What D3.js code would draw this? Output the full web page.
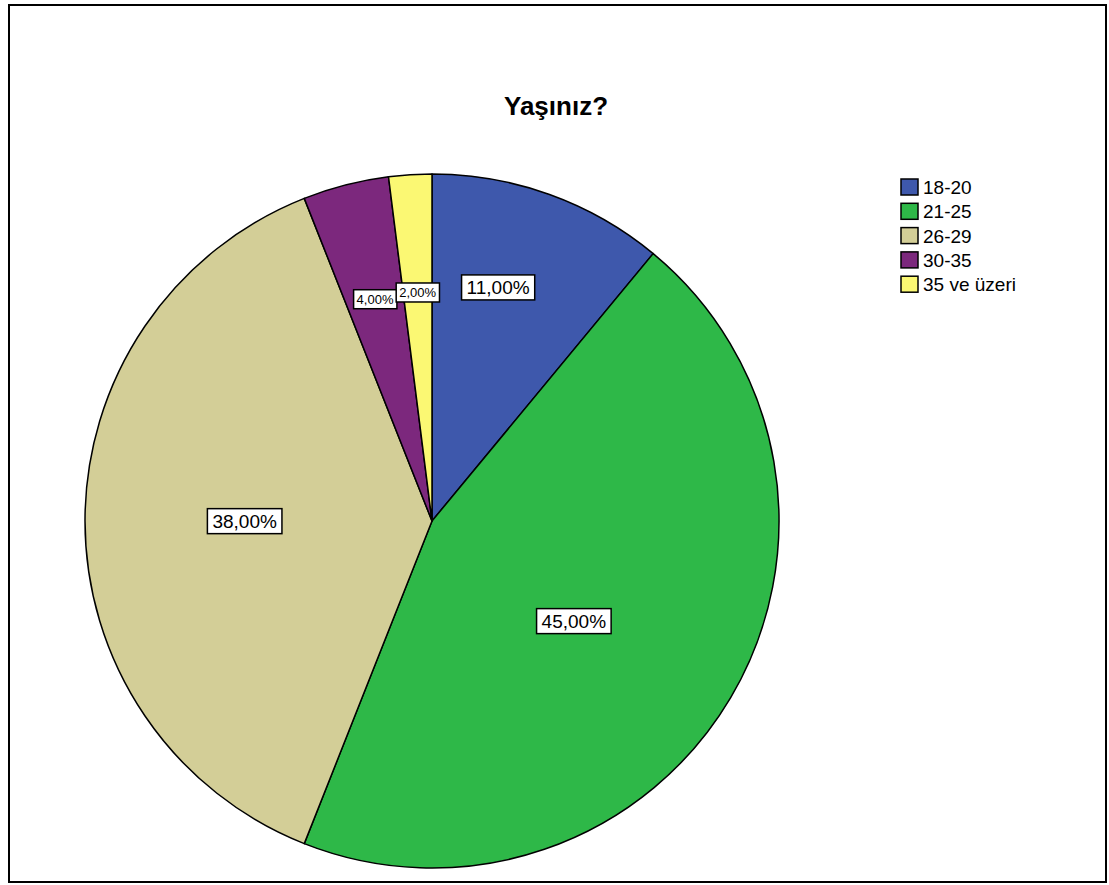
<!DOCTYPE html>
<html>
<head>
<meta charset="utf-8">
<script src="https://cdn.jsdelivr.net/npm/d3@7"></script>
<style>
  html, body { margin: 0; padding: 0; background: #fff; }
  svg { display: block; font-family: Arial, "Liberation Sans", sans-serif; }
</style>
</head>
<body>
<svg id="chart" width="1109" height="885"></svg>
<script>
// Age groups and their share of respondents (%)
const categories = ["18-20", "21-25", "26-29", "30-35", "35 ve üzeri"];
const percents = [11, 45, 38, 4, 2];
const colors = ["#3E58AC", "#2EB848", "#D3CE97", "#7C287D", "#FBF873"];
const title = "Yaşınız?";

// Label placement: fraction of radius and angular nudge (radians) per slice
const labelRadiusFrac = [0.70, 0.50, 0.54, 0.66, 0.66];
const labelAngleNudge = [-0.07, 0.08, 0, 0, 0];
const labelFontSize = [19, 19, 19, 13, 13];

const svg = d3.select("#chart");

// outer frame
svg.append("rect")
  .attr("x", 9).attr("y", 5)
  .attr("width", 1097).attr("height", 877)
  .attr("fill", "#fff").attr("stroke", "#000").attr("stroke-width", 2);

svg.append("text")
  .attr("x", 556).attr("y", 115)
  .attr("text-anchor", "middle")
  .attr("font-size", 26).attr("font-weight", "bold")
  .text(title);

const cx = 432, cy = 521, R = 347;
const g = svg.append("g").attr("transform", `translate(${cx},${cy})`);

const pie = d3.pie().sort(null).value(d => d);
const arcs = pie(percents);
const arc = d3.arc().innerRadius(0).outerRadius(R);

g.selectAll("path.slice")
  .data(arcs)
  .join("path")
  .attr("class", "slice")
  .attr("d", arc)
  .attr("fill", (d, i) => colors[i])
  .attr("stroke", "#000")
  .attr("stroke-width", 1.5)
  .attr("stroke-linejoin", "round");

const fmt = v => d3.format(".2f")(v).replace(".", ",") + "%";

arcs.forEach((d, i) => {
  const a = (d.startAngle + d.endAngle) / 2 + labelAngleNudge[i];
  const r = R * labelRadiusFrac[i];
  const x = r * Math.sin(a), y = -r * Math.cos(a);
  const fs = labelFontSize[i];
  const lg = g.append("g").attr("transform", `translate(${x},${y})`);
  const t = lg.append("text")
    .attr("text-anchor", "middle")
    .attr("dy", "0.35em")
    .attr("font-size", fs)
    .text(fmt(d.data));
  const bb = t.node().getBBox();
  const padX = fs > 14 ? 5 : 3, padY = fs > 14 ? 2 : 2;
  lg.insert("rect", "text")
    .attr("x", bb.x - padX).attr("y", bb.y - padY)
    .attr("width", bb.width + padX * 2).attr("height", bb.height + padY * 2)
    .attr("fill", "#fff").attr("stroke", "#000").attr("stroke-width", 1.5);
});

// legend
const legend = svg.append("g").attr("transform", "translate(901,179)");
const rowH = 24.3;
categories.forEach((c, i) => {
  const row = legend.append("g").attr("transform", `translate(0,${i * rowH})`);
  row.append("rect")
    .attr("x", 0).attr("y", 0).attr("width", 17).attr("height", 16)
    .attr("fill", colors[i]).attr("stroke", "#000").attr("stroke-width", 1.5);
  row.append("text")
    .attr("x", 22).attr("y", 15)
    .attr("font-size", 19)
    .text(c);
});
</script>
</body>
</html>
